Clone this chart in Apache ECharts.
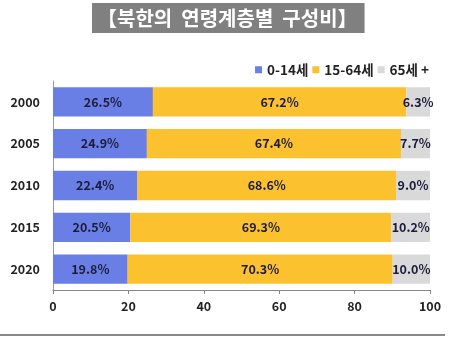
<!DOCTYPE html>
<html><head><meta charset="utf-8">
<script src="https://cdn.jsdelivr.net/npm/echarts@6/dist/echarts.min.js"></script>
<style>html,body{margin:0;padding:0;background:#fff}#c{width:459px;height:337px}</style>
</head><body><div id="c"></div>
<script>
const titleText = '【북한의  연령계층별  구성비】';
const years = ['2000', '2005', '2010', '2015', '2020'];
const seriesNames = ['0-14세', '15-64세', '65세 +'];
const age0_14 = [26.5, 24.9, 22.4, 20.5, 19.8];
const age15_64 = [67.2, 67.4, 68.6, 69.3, 70.3];
const age65 = [6.3, 7.7, 9.0, 10.2, 10.0];
const xTicks = [0, 20, 40, 60, 80, 100];

const colors = ['#6A7FE6', '#FBC12E', '#D9D9D9'];
const font = '"Noto Sans CJK KR", "Noto Sans", sans-serif';
const chart = echarts.init(document.getElementById('c'), null, {renderer: 'canvas'});
const mk = (name, data, i) => ({
  name, type: 'bar', stack: 'a', data, barWidth: '70%',
  itemStyle: {color: colors[i]},
  label: {show: true, position: 'inside', formatter: p => p.value.toFixed(1) + '%',
    color: '#1c1c3a', fontSize: 12.5, fontFamily: font, fontWeight: 'bold'}
});
chart.setOption({
  animation: false,
  title: {text: titleText, left: 92, top: 3,
    backgroundColor: '#808080', padding: [4, 7, 4, 5],
    textStyle: {color: '#fff', fontSize: 20, lineHeight: 22, fontWeight: 'bold', fontFamily: font}},
  legend: {right: 25, top: 58, itemWidth: 7, itemHeight: 7, itemGap: 4,
    icon: 'rect', textStyle: {fontSize: 13.5, fontWeight: 'bold', color: '#222', fontFamily: font}},
  grid: {left: 53, right: 29, top: 81, bottom: 47},
  xAxis: {type: 'value', min: 0, max: 100, interval: 20,
    axisLine: {show: true, lineStyle: {color: '#888'}},
    axisTick: {show: true, length: 4, lineStyle: {color: '#888'}},
    splitLine: {show: false},
    axisLabel: {color: '#222', fontSize: 12.5, fontWeight: 'bold', fontFamily: font, margin: 10,
      formatter: v => xTicks.includes(v) ? String(v) : ''}},
  yAxis: {type: 'category', data: years, inverse: true,
    axisLine: {show: true, lineStyle: {color: '#999'}},
    axisTick: {show: false},
    axisLabel: {color: '#222', fontSize: 12.5, fontWeight: 'bold', fontFamily: font, margin: 13}},
  graphic: [{type: 'line', shape: {x1: 0, y1: 335, x2: 445, y2: 335},
    style: {stroke: '#8a8a8a', lineWidth: 2}}],
  series: [mk(seriesNames[0], age0_14, 0), mk(seriesNames[1], age15_64, 1), mk(seriesNames[2], age65, 2)]
});
</script></body></html>
